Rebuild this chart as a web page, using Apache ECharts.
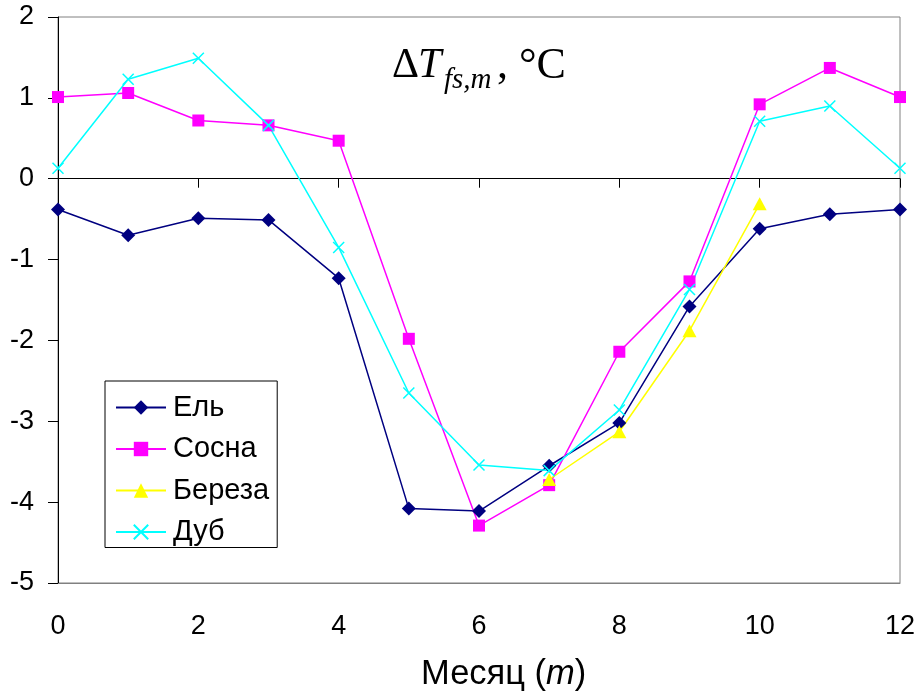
<!DOCTYPE html>
<html>
<head>
<meta charset="utf-8">
<script src="https://cdn.jsdelivr.net/npm/echarts@6/dist/echarts.min.js"></script>
<style>
html,body{margin:0;padding:0;background:#fff;}
#chart{width:916px;height:698px;}
</style>
</head>
<body>
<div id="chart"></div>
<script>
// Data
const months = [0, 1, 2, 3, 4, 5, 6, 7, 8, 9, 10, 11, 12];
const el     = [-0.38, -0.70, -0.49, -0.51, -1.23, -4.08, -4.11, -3.55, -3.02, -1.58, -0.62, -0.44, -0.38];
const sosna  = [1.01, 1.06, 0.72, 0.66, 0.47, -1.98, -4.29, -3.79, -2.14, -1.27, 0.92, 1.37, 1.01];
const bereza = [null, null, null, null, null, null, null, -3.72, -3.13, -1.88, -0.31, null, null];
const dub    = [0.13, 1.23, 1.49, 0.66, -0.85, -2.65, -3.54, -3.61, -2.86, -1.37, 0.71, 0.90, 0.13];
const seriesNames = ['Ель', 'Сосна', 'Береза', 'Дуб'];
const xTicks = [0, 2, 4, 6, 8, 10, 12];
const yTicks = [-5, -4, -3, -2, -1, 0, 1, 2];

function pairs(vals) {
  const out = [];
  months.forEach((m, i) => { if (vals[i] !== null) out.push([m, vals[i]]); });
  return out;
}

const chart = echarts.init(document.getElementById('chart'), null, {renderer: 'canvas'});
const sans = 'Arial, "Liberation Sans", sans-serif';
const serif = '"Times New Roman", "Liberation Serif", serif';

function lineSeries(name, vals, color, symbol, size, extraItem) {
  return {
    name: name,
    type: 'line',
    data: pairs(vals),
    symbol: symbol,
    symbolSize: size,
    showSymbol: true,
    lineStyle: {color: color, width: 1.5},
    itemStyle: Object.assign({color: color, borderWidth: 0}, extraItem || {}),
    emphasis: {disabled: true},
    animation: false
  };
}

const option = {
  animation: false,
  backgroundColor: '#fff',
  grid: {
    left: 58, right: 16, top: 17, bottom: 115,
    containLabel: false,
    outerBoundsMode: 'none',
    show: true,
    borderColor: '#808080',
    borderWidth: 1,
    backgroundColor: 'transparent'
  },
  xAxis: [
    {
      type: 'value', min: xTicks[0], max: xTicks[xTicks.length - 1], interval: 2,
      position: 'bottom',
      axisLine: {show: true, onZero: true, lineStyle: {color: '#000', width: 1}},
      axisTick: {show: true, length: 9, lineStyle: {color: '#000', width: 1}},
      axisLabel: {show: false},
      splitLine: {show: false}
    },
    {
      type: 'value', min: xTicks[0], max: xTicks[xTicks.length - 1], interval: 2,
      position: 'bottom',
      axisLine: {show: true, onZero: false, lineStyle: {color: '#808080', width: 1}},
      axisTick: {show: false},
      axisLabel: {show: true, fontSize: 27, fontFamily: sans, color: '#000', margin: 30},
      splitLine: {show: false}
    }
  ],
  yAxis: {
    type: 'value', min: yTicks[0], max: yTicks[yTicks.length - 1], interval: 1,
    axisLine: {show: true, onZero: false, lineStyle: {color: '#000', width: 1}},
    axisTick: {show: true, length: 10, lineStyle: {color: '#000', width: 1}},
    axisLabel: {show: true, fontSize: 27, fontFamily: sans, color: '#000', margin: 24},
    splitLine: {show: false}
  },
  legend: {
    orient: 'vertical',
    left: 105, top: 381,
    data: seriesNames,
    backgroundColor: '#fff',
    borderColor: '#000', borderWidth: 1,
    padding: [12, 8, 1, 10],
    itemWidth: 50, itemHeight: 18, itemGap: 12.5,
    textStyle: {fontSize: 29, fontFamily: sans, color: '#000', lineHeight: 28, padding: [0, 0, 0, 2]},
    selectedMode: false
  },
  graphic: [
    {type: 'text', left: 392, top: 45, style: {text: 'Δ', font: '42px ' + serif, fill: '#000'}},
    {type: 'text', left: 418, top: 45, style: {text: 'T', font: 'italic 42px ' + serif, fill: '#000'}},
    {type: 'text', left: 444, top: 66, style: {text: 'fs,m', font: 'italic 29px ' + serif, fill: '#000'}},
    {type: 'text', left: 497, top: 44, style: {text: ', °C', font: '44px ' + serif, fill: '#000'}},
    {type: 'text', left: 421, top: 657, style: {
      text: '{a|Месяц (}{b|m}{a|)}',
      rich: {
        a: {fontSize: 34.5, fontFamily: sans, fill: '#000'},
        b: {fontSize: 34.5, fontFamily: sans, fontStyle: 'italic', fill: '#000'}
      }
    }}
  ],
  series: [
    lineSeries(seriesNames[0], el, '#000080', 'diamond', 14),
    lineSeries(seriesNames[1], sosna, '#ff00ff', 'rect', 12),
    lineSeries(seriesNames[2], bereza, '#ffff00', 'triangle', [14, 13]),
    lineSeries(seriesNames[3], dub, '#00ffff', 'path://M0,0L10,10M10,0L0,10', 11,
      {borderColor: '#00ffff', borderWidth: 1.5})
  ]
};
chart.setOption(option);
</script>
</body>
</html>
